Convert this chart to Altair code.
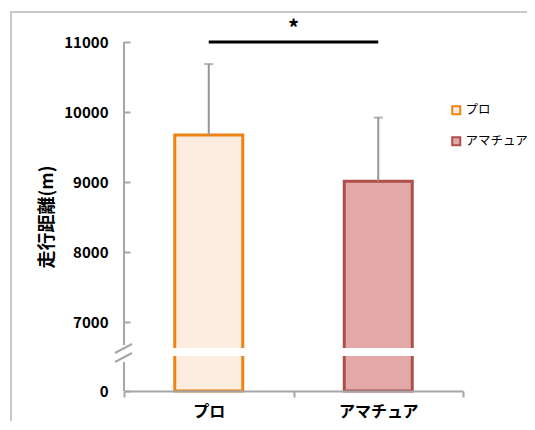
import altair as alt
import pandas as pd

# ---- data ----
cats = ["プロ", "アマチュア"]
means = [9670, 9010]
sds = [1015, 910]
fills = ["#FDEDE0", "#E3A9A8"]
strokes = ["#EE8212", "#AE4F4C"]
y_ticks = [0, 7000, 8000, 9000, 10000, 11000]
# broken axis: piecewise scale
scale_domain = [0, 5300, 6700, 11000]
scale_range = [349, 320, 301, 0]
strip = [5740, 6330]          # white gap across the bars
axis_gap = [5300, 6550]       # gap in the y axis line
slash_lo = [5300, 5963]
slash_hi = [5963, 6626]
sig_y = 11000

W, H = 339, 349
FONT = "Noto Sans CJK JP"
GRAY = "#a6a6a6"

df = pd.DataFrame({"cat": cats, "mean": means, "sd": sds})
df["hi"] = df["mean"] + df["sd"]
df["zero"] = 0

xscale = alt.Scale(domain=cats, paddingInner=0, paddingOuter=0)
xaxis = alt.Axis(title=None, labelAngle=0, labelFont=FONT, labelFontSize=16,
                 labelFontWeight="bold", labelColor="black", labelPadding=6,
                 domainColor=GRAY, domainWidth=2, tickColor=GRAY, tickWidth=2,
                 tickSize=6, tickBand="extent", zindex=1)
xenc = alt.X("cat:N", sort=cats, scale=xscale, axis=xaxis)
yscale = alt.Scale(domain=scale_domain, range=scale_range, nice=False, zero=False)
yaxis = alt.Axis(title="走行距離(m)", values=y_ticks, format="d", domain=False, grid=False,
                 offset=-6, tickSize=6, tickColor=GRAY, tickWidth=2,
                 labelFont=FONT, labelFontSize=15, labelFontWeight="bold",
                 labelColor="black", labelPadding=16,
                 titleFont=FONT, titleFontSize=18, titleFontWeight="bold",
                 titleColor="black", titlePadding=7)


def Y(field):
    return alt.Y(field, scale=yscale, axis=yaxis)


legend = alt.Legend(orient="none", legendX=326, legendY=62, title=None,
                    symbolType="square", symbolSize=64, symbolStrokeWidth=2,
                    labelFont=FONT, labelFontSize=12.5, labelColor="black",
                    rowPadding=14, labelOffset=3, padding=0)

bars = alt.Chart(df).mark_bar(size=68, strokeWidth=3).encode(
    x=xenc,
    y=Y("mean:Q"),
    y2="zero:Q",
    fill=alt.Fill("cat:N", sort=cats, scale=alt.Scale(domain=cats, range=fills), legend=legend),
    stroke=alt.Stroke("cat:N", sort=cats, scale=alt.Scale(domain=cats, range=strokes), legend=legend),
)

strip_df = pd.DataFrame({"cat": cats, "a": [strip[0]] * 2, "b": [strip[1]] * 2})
gap = alt.Chart(strip_df).mark_bar(size=76, color="white").encode(
    x=xenc, y=Y("a:Q"), y2="b:Q")

err = alt.Chart(df).mark_rule(color="#969696", strokeWidth=2).encode(
    x=xenc, y=Y("mean:Q"), y2="hi:Q")
caps = alt.Chart(df).mark_tick(size=9, thickness=2, color="#969696").encode(
    x=xenc, y=Y("hi:Q"))

ax_df = pd.DataFrame({"a": [0, axis_gap[1]], "b": [axis_gap[0], sig_y]})
yline = alt.Chart(ax_df).mark_rule(color=GRAY, strokeWidth=2).encode(
    x=alt.value(0), y=Y("a:Q"), y2="b:Q")

sl_df = pd.DataFrame({"a": [slash_lo[0], slash_hi[0]], "b": [slash_lo[1], slash_hi[1]]})
slashes = alt.Chart(sl_df).mark_rule(color=GRAY, strokeWidth=2).encode(
    x=alt.value(-9), x2=alt.value(8), y=Y("a:Q"), y2="b:Q")

sig_df = pd.DataFrame({"cat": [cats[0]], "b": [cats[1]], "y": [sig_y]})
sig = alt.Chart(sig_df).mark_rule(color="black", strokeWidth=3).encode(
    x=xenc, x2="b:N", y=Y("y:Q"))

star_df = pd.DataFrame({"t": ["*"], "y": [sig_y]})
star = alt.Chart(star_df).mark_text(font=FONT, fontSize=22, fontWeight="bold",
                                    baseline="alphabetic", dy=-6, color="black").encode(
    x=alt.value(W / 2), y=Y("y:Q"), text="t:N")

one = pd.DataFrame({"k": [0]})
frame_l = alt.Chart(one).mark_rule(color="#c8c8c8", strokeWidth=2).encode(
    x=alt.value(-113), y=alt.value(-30), y2=alt.value(H + 60))
frame_t = alt.Chart(one).mark_rule(color="#c8c8c8", strokeWidth=2).encode(
    x=alt.value(-114), x2=alt.value(W + 80), y=alt.value(-30))

chart = alt.layer(bars, gap, err, caps, yline, slashes, sig, star, frame_l, frame_t).properties(
    width=W, height=H,
    autosize=alt.AutoSizeParams(type="none"),
    padding={"left": 116, "top": 34, "right": 64, "bottom": 30},
    background="white",
).configure_view(stroke=None)

chart.save("out.html", embed_options={"renderer": "svg", "actions": False})
